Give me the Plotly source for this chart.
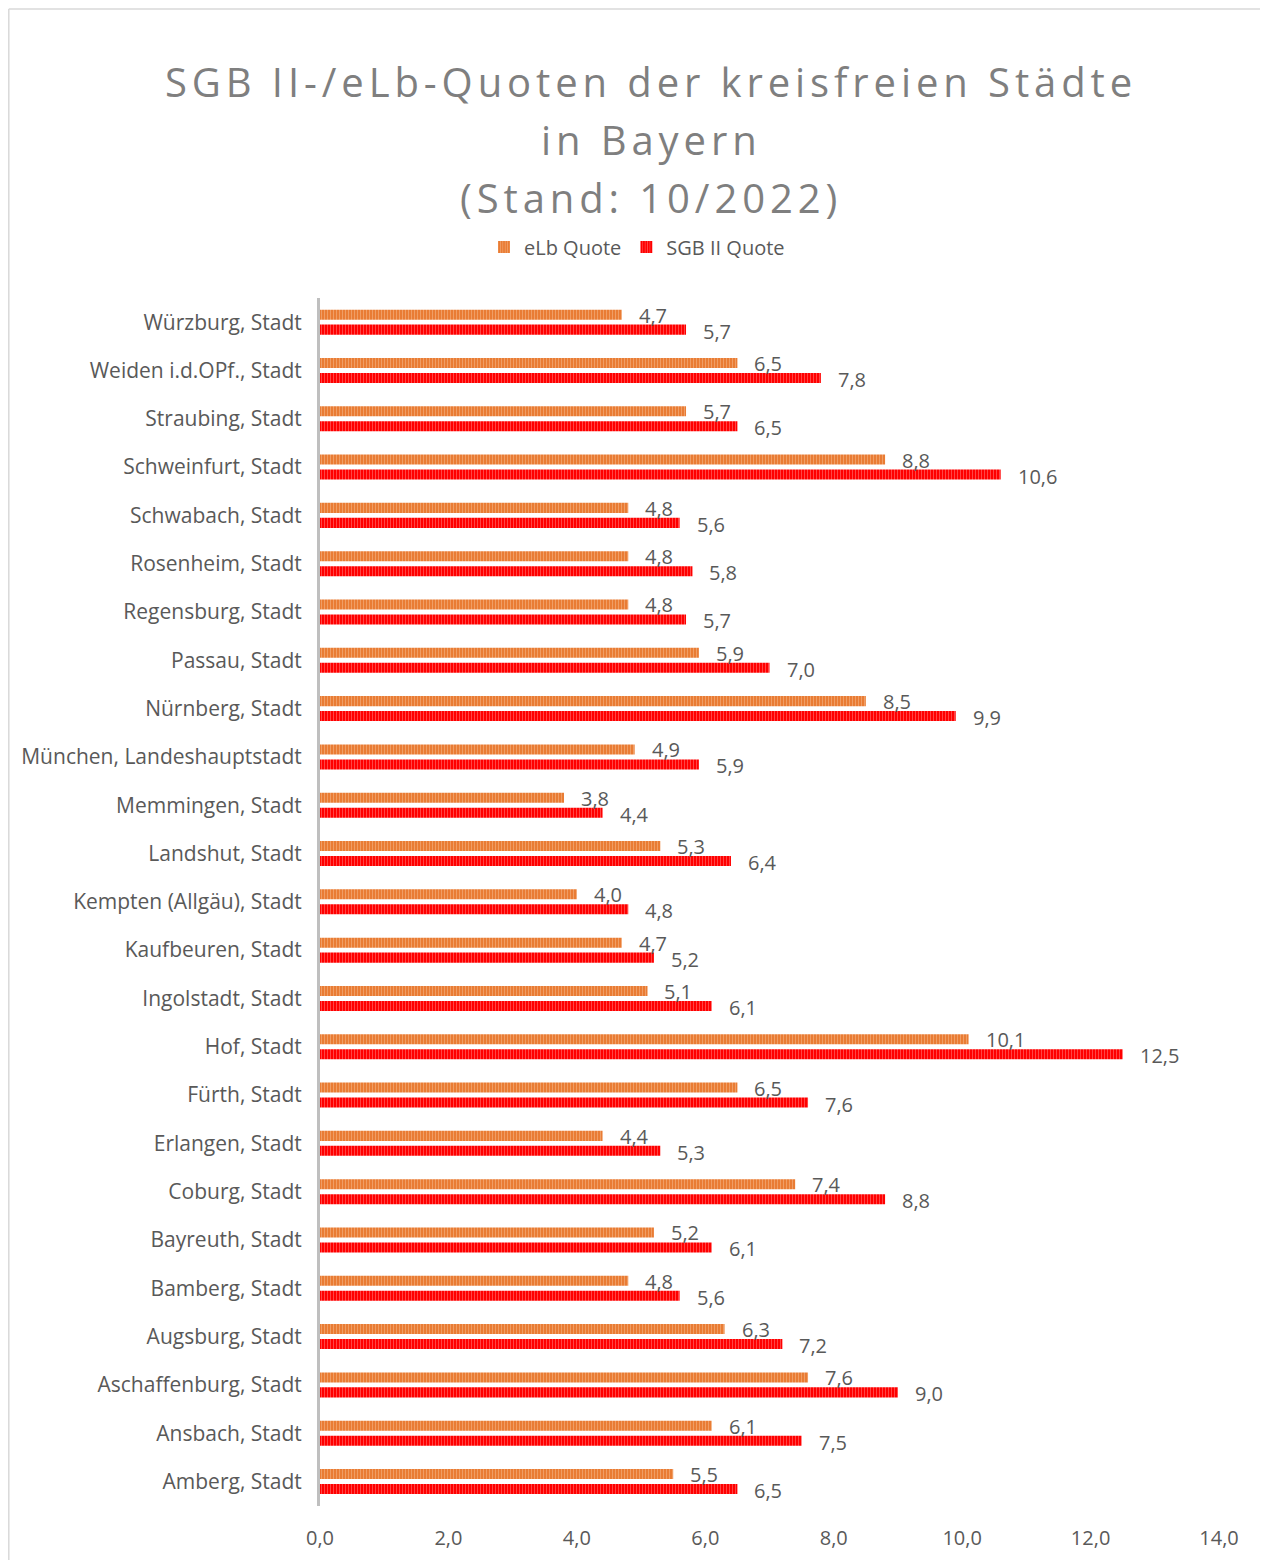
import plotly.graph_objects as go

# Data (bottom -> top order as drawn on the category axis)
cities = [
    "Amberg, Stadt", "Ansbach, Stadt", "Aschaffenburg, Stadt", "Augsburg, Stadt",
    "Bamberg, Stadt", "Bayreuth, Stadt", "Coburg, Stadt", "Erlangen, Stadt",
    "Fürth, Stadt", "Hof, Stadt", "Ingolstadt, Stadt", "Kaufbeuren, Stadt",
    "Kempten (Allgäu), Stadt", "Landshut, Stadt", "Memmingen, Stadt",
    "München, Landeshauptstadt", "Nürnberg, Stadt", "Passau, Stadt",
    "Regensburg, Stadt", "Rosenheim, Stadt", "Schwabach, Stadt",
    "Schweinfurt, Stadt", "Straubing, Stadt", "Weiden i.d.OPf., Stadt",
    "Würzburg, Stadt",
]
elb_quote = [5.5, 6.1, 7.6, 6.3, 4.8, 5.2, 7.4, 4.4, 6.5, 10.1, 5.1, 4.7, 4.0, 5.3, 3.8,
             4.9, 8.5, 5.9, 4.8, 4.8, 4.8, 8.8, 5.7, 6.5, 4.7]
sgb_quote = [6.5, 7.5, 9.0, 7.2, 5.6, 6.1, 8.8, 5.3, 7.6, 12.5, 6.1, 5.2, 4.8, 6.4, 4.4,
             5.9, 9.9, 7.0, 5.7, 5.8, 5.6, 10.6, 6.5, 7.8, 5.7]
x_ticks = [0, 2, 4, 6, 8, 10, 12, 14]

title_lines = ["SGB II-/eLb-Quoten der kreisfreien Städte", "in Bayern", "(Stand: 10/2022)"]

OFF = 8  # page body margin
W, H = 1268, 1560
# target page-pixel geometry of the plot area
PL, PR, PT, PB = 320, 1219, 298, 1506
L, T = PL - OFF, PT - OFF
R, B = W - (PR - OFF), H - (PB - OFF)
PW, PH = PR - PL, PB - PT

def px_x(p):
    return (p - PL) / PW

def px_y(p):
    return (PB - p) / PH

FONT = "Open Sans"
TXT = "#595959"

fig = go.Figure()
fig.add_trace(go.Bar(
    y=cities, x=sgb_quote, orientation="h", name="SGB II Quote",
    marker=dict(color="#FF0000", line=dict(width=0),
                pattern=dict(shape="|", fgcolor="#FF9A9A", size=3, solidity=0.3)),
))
fig.add_trace(go.Bar(
    y=cities, x=elb_quote, orientation="h", name="eLb Quote",
    marker=dict(color="#E8782E", line=dict(width=0),
                pattern=dict(shape="|", fgcolor="#F7C49C", size=3, solidity=0.4)),
))

annotations = []
def fmt(v):
    return f"{v:.1f}".replace(".", ",")

for c, e, s in zip(cities, elb_quote, sgb_quote):
    annotations.append(dict(x=e, y=c, xref="x", yref="y", text=fmt(e), showarrow=False,
                            xanchor="left", yanchor="middle", xshift=15, yshift=7,
                            font=dict(family=FONT, size=20, color=TXT)))
    annotations.append(dict(x=s, y=c, xref="x", yref="y", text=fmt(s), showarrow=False,
                            xanchor="left", yanchor="middle", xshift=15, yshift=-9,
                            font=dict(family=FONT, size=20, color=TXT)))

for line, yc in zip(title_lines, [82, 140, 198]):
    annotations.append(dict(x=px_x(651), y=px_y(yc), xref="paper", yref="paper",
                            text=f'<span style="letter-spacing:4.9px">{line}</span>',
                            showarrow=False, xanchor="center", yanchor="middle",
                            font=dict(family=FONT, size=40, color="#7F7F7F")))

shapes = [
    dict(type="line", xref="paper", yref="paper", x0=px_x(8.8), x1=px_x(8.8),
         y0=px_y(9), y1=px_y(1620), line=dict(color="#D9D9D9", width=1.5)),
    dict(type="line", xref="paper", yref="paper", x0=px_x(8.8), x1=px_x(1267),
         y0=px_y(9), y1=px_y(9), line=dict(color="#D9D9D9", width=1.5)),
]

fig.update_layout(
    width=W, height=H,
    margin=dict(l=L, r=R, t=T, b=B),
    paper_bgcolor="white", plot_bgcolor="white",
    separators=",.",
    barmode="group", bargap=0.38, bargroupgap=0.33,
    showlegend=True,
    legend=dict(orientation="h", traceorder="reversed", x=px_x(484), y=px_y(247),
                xanchor="left", yanchor="middle",
                font=dict(family=FONT, size=20, color=TXT), itemwidth=30),
    font=dict(family=FONT, size=20, color=TXT),
    annotations=annotations, shapes=shapes,
    xaxis=dict(range=[0, 14], tickvals=x_ticks, tickformat=".1f", showgrid=False,
               zeroline=False, showline=False, ticks="", ticklabelstandoff=18,
               tickfont=dict(family=FONT, size=20, color=TXT)),
    yaxis=dict(categoryorder="array", categoryarray=cities, showgrid=False, zeroline=False,
               showline=True, linecolor="#BFBFBF", linewidth=3, ticks="",
               ticklabelstandoff=11, tickfont=dict(family=FONT, size=21, color=TXT)),
)

fig.write_html("out.html")
